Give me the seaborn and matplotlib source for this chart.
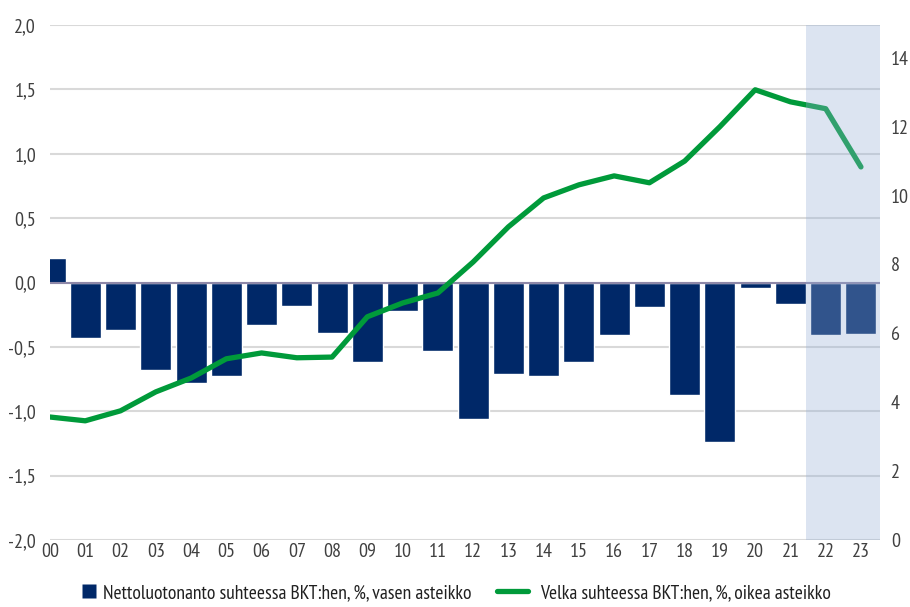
import numpy as np
import pandas as pd
import matplotlib
matplotlib.use("Agg")
import matplotlib.pyplot as plt
import seaborn as sns
from matplotlib.ticker import FuncFormatter
from matplotlib.lines import Line2D

years = ["00", "01", "02", "03", "04", "05", "06", "07", "08", "09", "10", "11",
         "12", "13", "14", "15", "16", "17", "18", "19", "20", "21", "22", "23"]
net_lending = [0.19, -0.43, -0.37, -0.68, -0.78, -0.73, -0.33, -0.18, -0.39, -0.62, -0.22, -0.53,
               -1.06, -0.71, -0.73, -0.62, -0.41, -0.19, -0.87, -1.24, -0.04, -0.17, -0.41, -0.40]
debt = [3.57, 3.46, 3.75, 4.30, 4.70, 5.26, 5.43, 5.29, 5.31, 6.48, 6.88, 7.17,
        8.07, 9.09, 9.93, 10.31, 10.57, 10.37, 11.00, 12.00, 13.07, 12.72, 12.52, 10.83]
left_ticks = [-2.0, -1.5, -1.0, -0.5, 0.0, 0.5, 1.0, 1.5, 2.0]
right_ticks = [0, 2, 4, 6, 8, 10, 12, 14]
label_bar = "Nettoluotonanto suhteessa BKT:hen, %, vasen asteikko"
label_line = "Velka suhteessa BKT:hen, %, oikea asteikko"

sns.set_theme(style="white")
plt.rcParams['font.family'] = ['PT Sans Narrow', 'DejaVu Sans']

navy = "#002868"
green = "#009a3a"
text_col = "#404040"
fs = 14.5
lfs = 14

df = pd.DataFrame({"year": years, "net": net_lending, "debt": debt})
df["pos"] = np.arange(len(years))

fig = plt.figure(figsize=(9.1, 6.07), dpi=100)
ax = fig.add_axes([50/910, 1-540/607, 830/910, 515/607])

sns.barplot(data=df, x="year", y="net", ax=ax, color=navy, width=0.88,
            saturation=1, zorder=3)
ax.set_ylim(-2.0, 2.0)
ax.set_yticks(left_ticks)
ax.yaxis.set_major_formatter(FuncFormatter(lambda v, p: f"{v:.1f}".replace(".", ",")))
ax.grid(axis="y", color="#d9d9d9", linewidth=1.5, zorder=0)
ax.grid(axis="x", visible=False)
ax.axhline(0, color="#8e88a8", linewidth=1.5, zorder=4)
for s in ax.spines.values():
    s.set_visible(False)
ax.set_xlabel("")
ax.set_ylabel("")
ax.tick_params(axis="both", length=0, labelsize=fs, colors=text_col)
ax.tick_params(axis="y", pad=10)
ax.tick_params(axis="x", pad=2)

ax2 = ax.twinx()
sns.lineplot(data=df, x="pos", y="debt", ax=ax2, color=green, linewidth=3.8,
             solid_capstyle="round", zorder=5)
ax2.set_ylim(0, 14.95)
ax2.set_yticks(right_ticks)
for s in ax2.spines.values():
    s.set_visible(False)
ax2.set_xlabel("")
ax2.set_ylabel("")
ax2.grid(False)
ax2.tick_params(axis="y", length=0, labelsize=fs, colors=text_col, pad=8)
ax.set_xlim(0, 23.54)
ax2.set_xlim(0, 23.54)

ax2.axvspan(21.44, 23.54, color="#96afd7", alpha=0.33, zorder=10, linewidth=0)

yleg = 1 - 593/607
h1 = Line2D([0], [0], marker="s", color="none", markerfacecolor=navy,
            markeredgecolor="none", markersize=10.5)
h2 = Line2D([0], [0], color=green, linewidth=3.8, solid_capstyle="round")
leg1 = fig.legend([h1], [label_bar], loc="center left",
                  bbox_to_anchor=(79/910, yleg), frameon=False, fontsize=lfs,
                  handlelength=1.05, handletextpad=0.2, borderpad=0, borderaxespad=0)
leg2 = fig.legend([h2], [label_line], loc="center left",
                  bbox_to_anchor=(497/910, yleg), frameon=False, fontsize=lfs,
                  handlelength=1.6, handletextpad=0.6, borderpad=0, borderaxespad=0)
for lg in (leg1, leg2):
    for t in lg.get_texts():
        t.set_color("#202020")

fig.savefig("out.png", dpi=100)
